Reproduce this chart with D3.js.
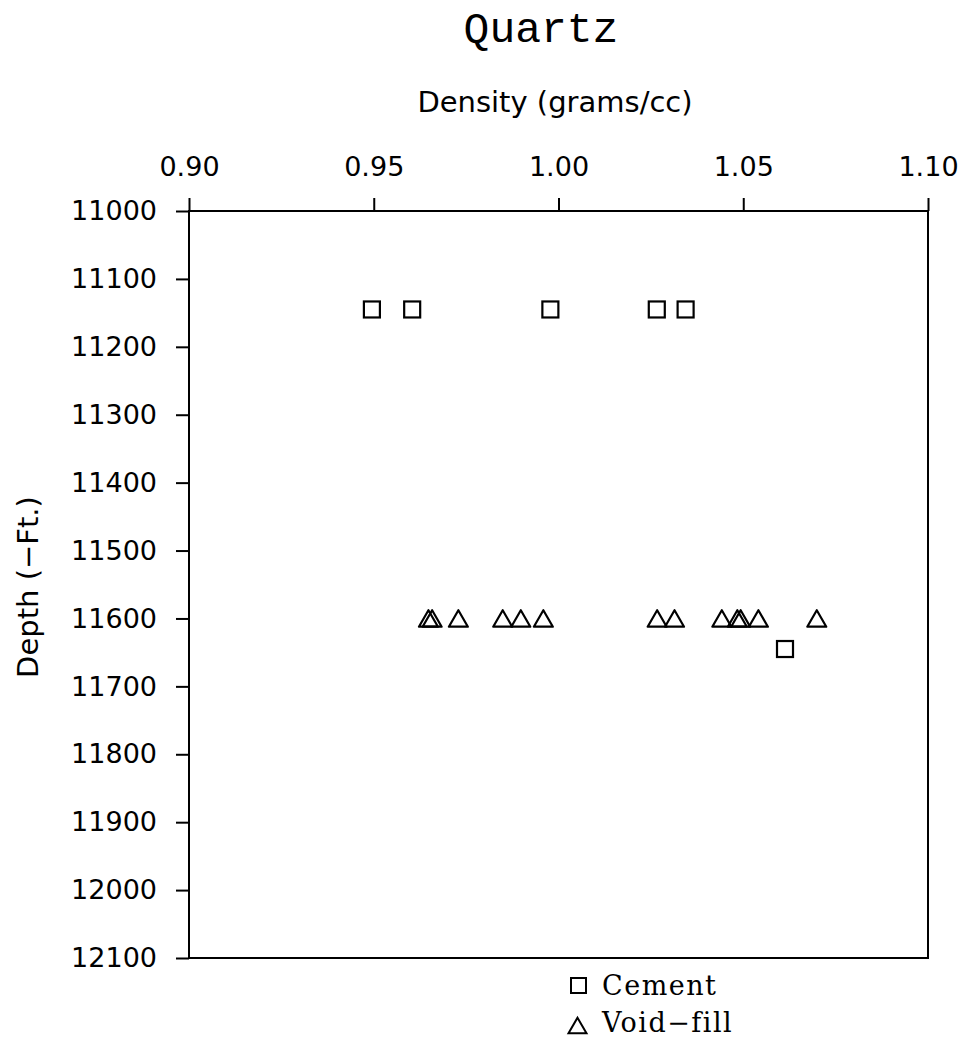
<!DOCTYPE html>
<meta charset="utf-8">
<style>
body { margin: 0; background: #fff; }
text { fill: #000; }
.tick text { font: 27px "DejaVu Sans", sans-serif; }
.title { font: 43px "Liberation Mono", monospace; text-anchor: middle; }
.axis-label { font: 29px "DejaVu Sans", sans-serif; text-anchor: middle; }
.legend text { font: 27px "DejaVu Serif", serif; letter-spacing: 1.5px; }
</style>
<svg width="963" height="1037"></svg>
<script src="https://cdn.jsdelivr.net/npm/d3@7"></script>
<script>
var svg = d3.select("svg");

// data
var xTicks = [0.90, 0.95, 1.00, 1.05, 1.10];
var yTicks = [11000, 11100, 11200, 11300, 11400, 11500, 11600, 11700, 11800, 11900, 12000, 12100];

var cementDensity = [0.9495, 0.9604, 0.9978, 1.0266, 1.0344, 1.0613];
var cementDepth   = [11145, 11145, 11145, 11145, 11145, 11645];

var voidDensity = [0.9648, 0.9658, 0.9729, 0.9849, 0.9898, 0.9959, 1.0267, 1.0314, 1.0442, 1.0484, 1.0493, 1.0541, 1.0699];
var voidDepth   = [11600, 11600, 11600, 11600, 11600, 11600, 11600, 11600, 11600, 11600, 11600, 11600, 11600];

var plotL = 189, plotR = 928, plotT = 211, plotB = 958;

var x = d3.scaleLinear().domain([0.90, 1.10]).range([plotL, plotR]);
var y = d3.scaleLinear().domain([11000, 12100]).range([plotT, plotB]);

svg.append("text").attr("class", "title")
  .attr("x", 541).attr("y", 42).text("Quartz");

svg.append("text").attr("class", "axis-label")
  .attr("x", 555).attr("y", 112).text("Density (grams/cc)");

svg.append("text").attr("class", "axis-label")
  .attr("transform", "translate(38,587) rotate(-90)")
  .text("Depth (\u2212Ft.)");

// frame
svg.append("rect")
  .attr("x", plotL).attr("y", plotT)
  .attr("width", plotR - plotL).attr("height", plotB - plotT)
  .attr("fill", "none").attr("stroke", "#000").attr("stroke-width", 2);

// top axis
svg.append("g")
  .attr("transform", "translate(0," + plotT + ")")
  .call(d3.axisTop(x).tickValues(xTicks).tickFormat(d3.format(".2f")).tickSize(13).tickPadding(22));

// left axis
svg.append("g")
  .attr("transform", "translate(" + plotL + ",0)")
  .call(d3.axisLeft(y).tickValues(yTicks).tickFormat(d3.format("d")).tickSize(13).tickPadding(19));

svg.selectAll(".domain").remove();
svg.selectAll(".tick line").attr("stroke", "#000").attr("stroke-width", 2);

// markers
var sq = 16;
svg.append("g").selectAll("rect")
  .data(cementDensity)
  .join("rect")
  .attr("x", function(d) { return x(d) - sq / 2; })
  .attr("y", function(d, i) { return y(cementDepth[i]) - sq / 2; })
  .attr("width", sq).attr("height", sq)
  .attr("fill", "none").attr("stroke", "#000").attr("stroke-width", 2.2);

// triangle centred on its bounding box
function triPath(s) {
  var h = s * 0.87;
  return "M0," + (-h / 2) + "L" + (s / 2) + "," + (h / 2) + "L" + (-s / 2) + "," + (h / 2) + "Z";
}

svg.append("g").selectAll("path")
  .data(voidDensity)
  .join("path")
  .attr("d", triPath(19))
  .attr("transform", function(d, i) { return "translate(" + x(d) + "," + y(voidDepth[i]) + ")"; })
  .attr("fill", "none").attr("stroke", "#000").attr("stroke-width", 2.2)
  .attr("stroke-linejoin", "round");

// legend
var legend = svg.append("g").attr("class", "legend");
legend.append("rect")
  .attr("x", 571).attr("y", 978).attr("width", 15).attr("height", 15)
  .attr("fill", "none").attr("stroke", "#000").attr("stroke-width", 2);
legend.append("text").attr("x", 602).attr("y", 995).text("Cement");
legend.append("path")
  .attr("d", triPath(18))
  .attr("transform", "translate(577.5,1025.5)")
  .attr("fill", "none").attr("stroke", "#000").attr("stroke-width", 2);
legend.append("text").attr("x", 602).attr("y", 1032).text("Void\u2212fill");
</script>
